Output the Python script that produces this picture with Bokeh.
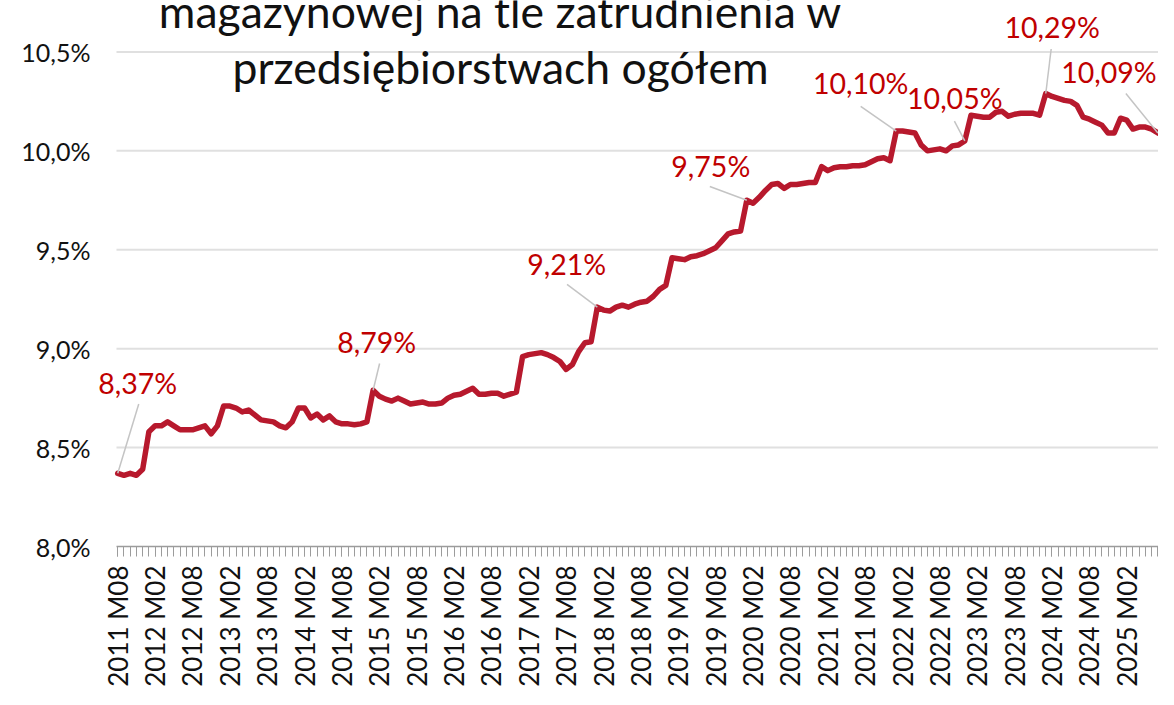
from bokeh.plotting import figure
from bokeh.models import Range1d, FixedTicker, ColumnDataSource, LabelSet, Label
from bokeh.embed import file_html
from bokeh.resources import INLINE
from bokeh.core.properties import value
import numpy as np

# ---------------- data (share, %) monthly 2011 M08 .. 2025 M07 ----------------
v2011 = [8.37, 8.36, 8.37, 8.36, 8.39]
v2012 = [8.58, 8.61, 8.61, 8.63, 8.61, 8.59, 8.59, 8.59, 8.60, 8.61, 8.57, 8.61]
v2013 = [8.71, 8.71, 8.70, 8.68, 8.69, 8.665, 8.64, 8.635, 8.63, 8.61, 8.60, 8.63]
v2014 = [8.70, 8.70, 8.65, 8.67, 8.64, 8.66, 8.63, 8.62, 8.62, 8.615, 8.62, 8.63]
v2015 = [8.79, 8.76, 8.745, 8.735, 8.75, 8.735, 8.72, 8.725, 8.73, 8.72, 8.72, 8.725]
v2016 = [8.75, 8.765, 8.77, 8.785, 8.80, 8.77, 8.77, 8.775, 8.775, 8.76, 8.77, 8.78]
v2017 = [8.96, 8.97, 8.975, 8.98, 8.97, 8.955, 8.935, 8.895, 8.92, 8.985, 9.03, 9.035]
v2018 = [9.21, 9.195, 9.19, 9.21, 9.22, 9.21, 9.225, 9.235, 9.24, 9.265, 9.30, 9.32]
v2019 = [9.46, 9.455, 9.45, 9.465, 9.47, 9.48, 9.495, 9.51, 9.545, 9.58, 9.59, 9.595]
v2020 = [9.75, 9.735, 9.765, 9.80, 9.83, 9.835, 9.81, 9.83, 9.83, 9.835, 9.84, 9.84]
v2021 = [9.92, 9.90, 9.915, 9.92, 9.92, 9.925, 9.925, 9.93, 9.945, 9.96, 9.965, 9.95]
v2022 = [10.10, 10.10, 10.095, 10.09, 10.03, 10.00, 10.005, 10.01, 10.00, 10.025, 10.03, 10.05]
v2023 = [10.18, 10.175, 10.17, 10.17, 10.195, 10.20, 10.175, 10.185, 10.19, 10.19, 10.19, 10.18]
v2024 = [10.29, 10.275, 10.265, 10.255, 10.25, 10.23, 10.17, 10.16, 10.145, 10.13, 10.09, 10.09]
v2025 = [10.165, 10.155, 10.11, 10.12, 10.12, 10.11, 10.09]

tick_labels = ["2011 M08", "2012 M02", "2012 M08", "2013 M02", "2013 M08", "2014 M02",
               "2014 M08", "2015 M02", "2015 M08", "2016 M02", "2016 M08", "2017 M02",
               "2017 M08", "2018 M02", "2018 M08", "2019 M02", "2019 M08", "2020 M02",
               "2020 M08", "2021 M02", "2021 M08", "2022 M02", "2022 M08", "2023 M02",
               "2023 M08", "2024 M02", "2024 M08", "2025 M02"]

y_ticks = [8.0, 8.5, 9.0, 9.5, 10.0, 10.5]
y_tick_labels = ["8,0%", "8,5%", "9,0%", "9,5%", "10,0%", "10,5%"]

title_lines = ["magazynowej na tle zatrudnienia w", "przedsiębiorstwach ogółem"]

labelled_idx = [0, 41, 77, 101, 125, 136, 149, 167]

# ---------------- styles / layout ----------------
share = v2011 + v2012 + v2013 + v2014 + v2015 + v2016 + v2017 + v2018 + \
        v2019 + v2020 + v2021 + v2022 + v2023 + v2024 + v2025
x = list(range(len(share)))
tick_pos = [6 * k for k in range(len(tick_labels))]

W, H = 1158, 689
PLOT_LEFT = 116          # where the visible plot area starts (px)
FL, FR, FT, FB = 90, 0, 0, 137
XV0, X1 = -0.2, len(share) - 1 + 0.1
PX = (W - PLOT_LEFT - FR) / (X1 - XV0)
X0 = XV0 - (PLOT_LEFT - FL) / PX
Y0, Y1 = 8.0, 10.76
PY = (H - FT - FB) / (Y1 - Y0)

# label text-centre offsets and leader start offsets from the point (pixels; dy<0 = up)
text_off = [(20, -91), (3.5, -49), (-30.6, -44), (-36, -35), (-35.6, -49), (-10, -43), (6.4, -67), (-49, -62)]
lead_off = [(21, -70), (6.5, -27), (-30.3, -23), (-37, -14), (-35.6, -25), (-10.4, -20), (5.4, -45), (-32, -40)]

LINE_C = "#B7192D"
LAB_C = "#C00000"
FONT = "Lato"
TXT_C = "#111111"
GRID_C = "#e0e0e0"
AXIS_C = "#9c9c9c"

p = figure(width=W, height=H, x_range=Range1d(X0, X1), y_range=Range1d(Y0, Y1),
           output_backend="svg", toolbar_location=None,
           min_border_left=FL, min_border_right=FR, min_border_top=FT, min_border_bottom=FB,
           background_fill_color="white", border_fill_color="white", outline_line_color=None)
p.title.visible = False

# horizontal gridlines over the visible plot area only
p.xgrid.visible = False
p.ygrid.visible = False
gy = y_ticks[1:]
p.segment(x0=[XV0] * len(gy), y0=gy, x1=[X1] * len(gy), y1=gy,
          line_color=GRID_C, line_width=2)

# x axis
xa = p.xaxis[0]
xa.bounds = (XV0, X1)
xa.ticker = FixedTicker(ticks=tick_pos, minor_ticks=x)
xa.major_label_overrides = {t: lab for t, lab in zip(tick_pos, tick_labels)}
xa.major_label_orientation = np.pi / 2
xa.major_tick_in = 0
xa.major_tick_out = 10
xa.minor_tick_in = 0
xa.minor_tick_out = 10
xa.major_label_standoff = 9
xa.axis_line_color = AXIS_C
xa.axis_line_width = 1.5
xa.major_tick_line_color = AXIS_C
xa.minor_tick_line_color = AXIS_C
xa.major_tick_line_width = 1
xa.minor_tick_line_width = 1
xa.major_label_text_font = FONT
xa.major_label_text_font_size = "26px"
xa.major_label_text_color = TXT_C

# y axis
ya = p.yaxis[0]
ya.ticker = FixedTicker(ticks=y_ticks)
ya.major_label_overrides = {t: lab for t, lab in zip(y_ticks, y_tick_labels)}
ya.axis_line_color = None
ya.major_tick_line_color = None
ya.minor_tick_line_color = None
ya.major_tick_out = 0
ya.major_label_standoff = 0
ya.major_label_text_font = FONT
ya.major_label_text_font_size = "25px"
ya.major_label_text_color = TXT_C

# series
p.line(x, share, line_color=LINE_C, line_width=5.5, line_join="round", line_cap="round")

# data labels + leader lines
lx = [x[i] + dx / PX for i, (dx, dy) in zip(labelled_idx, text_off)]
ly = [share[i] - dy / PY for i, (dx, dy) in zip(labelled_idx, text_off)]
sx = [x[i] + dx / PX for i, (dx, dy) in zip(labelled_idx, lead_off)]
sy = [share[i] - dy / PY for i, (dx, dy) in zip(labelled_idx, lead_off)]
ex = [x[i] for i in labelled_idx]
ey = [share[i] for i in labelled_idx]
txt = [("%.2f" % share[i]).replace(".", ",") + "%" for i in labelled_idx]

p.segment(x0=sx, y0=sy, x1=ex, y1=ey, line_color="#c4c4c4", line_width=1.5)
src = ColumnDataSource(dict(x=lx, y=ly, t=txt))
p.add_layout(LabelSet(x="x", y="y", text="t", source=src,
                      text_font=value(FONT), text_font_size=value("28.5px"),
                      text_color=LAB_C, text_align="center", text_baseline="middle"))

# title (its upper part is cropped in the original)
def px_to_x(px):
    return X0 + (px - FL) / PX

def py_to_y(py):
    return Y1 - (py - FT) / PY

for line_txt, base_px in zip(title_lines, [10, 67]):
    p.add_layout(Label(x=px_to_x(500), y=py_to_y(base_px), text=line_txt,
                       text_font=FONT, text_font_size="44.5px", text_color=TXT_C,
                       text_align="center", text_baseline="alphabetic"))

open("out.html", "w").write(file_html(p, INLINE))
